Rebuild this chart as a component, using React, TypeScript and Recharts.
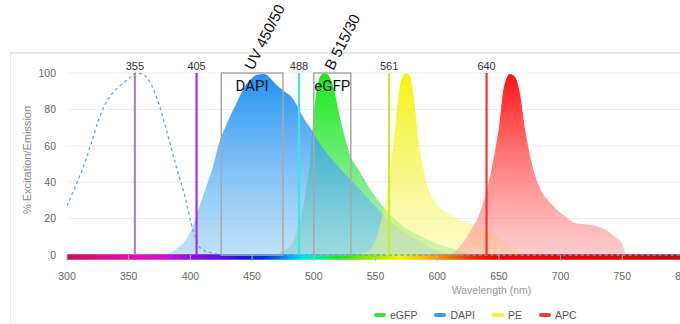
import React from 'react'
import {
  ComposedChart,
  Area,
  Line,
  XAxis,
  YAxis,
  CartesianGrid,
  ReferenceLine,
  ReferenceArea,
  Legend,
} from 'recharts'

const wavelengthTicks = [300, 350, 400, 450, 500, 550, 600, 650, 700, 750, 800]
const percentTicks = [0, 20, 40, 60, 80, 100]

// DAPI excitation, drawn dashed
const dapiExcitation = [
  { nm: 300, v: 27 }, { nm: 307, v: 38 }, { nm: 313, v: 48 }, { nm: 319, v: 60 },
  { nm: 325, v: 73 }, { nm: 331, v: 83 }, { nm: 337, v: 89 }, { nm: 343, v: 93 },
  { nm: 350, v: 97 }, { nm: 356, v: 100 }, { nm: 362, v: 99 }, { nm: 368, v: 94 },
  { nm: 374, v: 84 }, { nm: 380, v: 70 }, { nm: 388, v: 50 }, { nm: 396, v: 31 },
  { nm: 402, v: 14 }, { nm: 408, v: 4 }, { nm: 418, v: 1 }, { nm: 430, v: 0 },
  { nm: 550, v: 0 }, { nm: 700, v: 0 }, { nm: 800, v: 0 },
]

// emission spectra
const egfpEmission = [
  { nm: 465, v: 0 }, { nm: 472, v: 1 }, { nm: 478, v: 3 }, { nm: 486, v: 12 },
  { nm: 491, v: 25 }, { nm: 494, v: 37 }, { nm: 497, v: 52 }, { nm: 499, v: 70 },
  { nm: 502, v: 89 }, { nm: 505, v: 98 }, { nm: 509, v: 100 }, { nm: 514, v: 96 },
  { nm: 517, v: 89 }, { nm: 521, v: 76 }, { nm: 525, v: 65 }, { nm: 530, v: 54 },
  { nm: 537, v: 46 }, { nm: 545, v: 37 }, { nm: 551, v: 31 }, { nm: 561, v: 23 },
  { nm: 574, v: 15 }, { nm: 588, v: 10 }, { nm: 599, v: 6.5 }, { nm: 610, v: 4 },
  { nm: 620, v: 2 }, { nm: 632, v: 0 },
]

const dapiEmission = [
  { nm: 375, v: 0 }, { nm: 383, v: 1 }, { nm: 390, v: 4 }, { nm: 397, v: 9 },
  { nm: 402, v: 16 }, { nm: 407, v: 26 }, { nm: 412, v: 36 }, { nm: 418, v: 48 },
  { nm: 424, v: 63 }, { nm: 430, v: 73 }, { nm: 437, v: 83 }, { nm: 442, v: 90 },
  { nm: 448, v: 96 }, { nm: 454, v: 99 }, { nm: 460, v: 99.5 }, { nm: 465, v: 97 },
  { nm: 469, v: 94 }, { nm: 476, v: 90 }, { nm: 483, v: 86 }, { nm: 488, v: 80 },
  { nm: 492, v: 75 }, { nm: 497, v: 70 }, { nm: 507, v: 59 }, { nm: 518, v: 50 },
  { nm: 529, v: 42 }, { nm: 540, v: 34 }, { nm: 548, v: 28 }, { nm: 561, v: 19 },
  { nm: 575, v: 12 }, { nm: 588, v: 6.5 }, { nm: 595, v: 4 }, { nm: 602, v: 2 },
  { nm: 612, v: 0.5 }, { nm: 620, v: 0 },
]

const peEmission = [
  { nm: 530, v: 0 }, { nm: 540, v: 1 }, { nm: 547, v: 4 }, { nm: 551, v: 10 },
  { nm: 555, v: 20 }, { nm: 559, v: 33 }, { nm: 563, v: 52 }, { nm: 566, v: 70 },
  { nm: 569, v: 90 }, { nm: 572, v: 98 }, { nm: 575, v: 100 }, { nm: 578, v: 98 },
  { nm: 581, v: 87 }, { nm: 585, v: 62 }, { nm: 589, v: 47 }, { nm: 593, v: 36 },
  { nm: 599, v: 28.5 }, { nm: 609, v: 23 }, { nm: 625, v: 17.5 }, { nm: 639, v: 14 },
  { nm: 652, v: 8 }, { nm: 663, v: 3 }, { nm: 676, v: 0 },
]

const apcEmission = [
  { nm: 600, v: 0 }, { nm: 612, v: 1 }, { nm: 620, v: 6 }, { nm: 626, v: 12 },
  { nm: 636, v: 26 }, { nm: 644, v: 47 }, { nm: 650, v: 70 }, { nm: 654, v: 92 },
  { nm: 659, v: 99.5 }, { nm: 663, v: 98 }, { nm: 667, v: 89 }, { nm: 671, v: 70 },
  { nm: 676, v: 52 }, { nm: 683, v: 37 }, { nm: 692, v: 28.5 }, { nm: 704, v: 21 },
  { nm: 712, v: 17.5 }, { nm: 725, v: 16.5 }, { nm: 736, v: 14 }, { nm: 744, v: 10 },
  { nm: 749, v: 7 }, { nm: 752, v: 2 }, { nm: 753, v: 0 },
]

const laserLines = [355, 405, 488, 561, 640]
const laserColors = ['#ae86bf', '#a030ee', '#3fe3e3', '#c6ee2e', '#ef3535']

const filterNames = ['DAPI', 'eGFP']
const filterTitles = ['UV 450/50', 'B 515/30']
const filterLows = [425, 500]
const filterHighs = [475, 530]

const legendNames = ['eGFP', 'DAPI', 'PE', 'APC']
const legendColors = ['#3be23b', '#3a9ef0', '#f2f23a', '#f03c3c']

// colour of the wavelength strip under the plot
const spectrumStops: [number, string][] = [
  [300, '#c0125c'], [330, '#d81088'], [355, '#e010b0'], [380, '#c812d0'],
  [400, '#9010e0'], [425, '#5a10e6'], [445, '#1818e0'], [460, '#0030e0'],
  [475, '#0080f0'], [490, '#00e0f0'], [505, '#00f090'], [520, '#18e818'],
  [545, '#90e800'], [570, '#f4f000'], [590, '#f4b800'], [610, '#f07000'],
  [630, '#f02400'], [650, '#f00000'], [750, '#e60000'], [800, '#c00010'],
]

const font = "'Liberation Sans', Arial, sans-serif"

function FilterLabel({ viewBox, name, title }: any) {
  if (!viewBox) return null
  const { x, y, width } = viewBox
  const cx = x + width / 2
  return (
    <g>
      <text
        x={cx}
        y={y + 18}
        textAnchor="middle"
        fontSize={15}
        fill="#111"
        fontFamily="'Liberation Sans Narrow', Roboto, sans-serif"
      >
        {name}
      </text>
      <text
        transform={`translate(${cx + 1},${y - 2}) rotate(-63)`}
        fontSize={15}
        fill="#111"
        fontFamily={font}
      >
        {title}
      </text>
    </g>
  )
}

// y-axis title, placed from the axis box
function YTitle({ viewBox }: any) {
  if (!viewBox) return null
  const cy = viewBox.y + viewBox.height / 2 - 4
  return (
    <text
      transform={`translate(31,${cy}) rotate(-90)`}
      textAnchor="middle"
      fontSize={11}
      fill="#888"
      fontFamily={font}
    >
      % Excitation/Emission
    </text>
  )
}

function SpectraLegend() {
  return (
    <div style={{ display: 'flex', fontFamily: font, fontSize: 10.5, color: '#555' }}>
      {legendNames.map((name, i) => (
        <div key={name} style={{ display: 'flex', alignItems: 'center', marginRight: 17 }}>
          <span
            style={{
              display: 'inline-block',
              width: 12,
              height: 4,
              borderRadius: 2,
              background: legendColors[i],
              marginRight: 4,
            }}
          />
          <span>{name}</span>
        </div>
      ))}
    </div>
  )
}

export default function App() {
  return (
    <div
      style={{
        position: 'absolute',
        left: 0,
        top: 0,
        width: 680,
        height: 324,
        overflow: 'hidden',
        background: '#fff',
      }}
    >
      <div
        style={{
          position: 'absolute',
          left: 10,
          top: 52,
          right: 0,
          bottom: 0,
          borderTop: '2px solid #e6e6e6',
          borderLeft: '1px solid #ececec',
        }}
      />
      <div style={{ position: 'absolute', left: 0, top: 0 }}>
        <ComposedChart
          width={714}
          height={324}
          margin={{ top: 73, right: 30, bottom: 39, left: 0 }}
          style={{ fontFamily: font }}
        >
          <defs>
            <linearGradient id="spectrum" x1="0" y1="0" x2="1" y2="0">
              {spectrumStops.map(([nm, c]) => (
                <stop key={nm} offset={(nm - 300) / 500} stopColor={c} />
              ))}
            </linearGradient>
            <linearGradient id="gEgfp" x1="0" y1="0" x2="0" y2="1">
              <stop offset="0" stopColor="#18ea18" stopOpacity={1} />
              <stop offset="1" stopColor="#7ee69a" stopOpacity={0.6} />
            </linearGradient>
            <linearGradient id="gDapi" x1="0" y1="0" x2="0" y2="1">
              <stop offset="0" stopColor="#168cf2" stopOpacity={0.95} />
              <stop offset="1" stopColor="#8cc8f4" stopOpacity={0.55} />
            </linearGradient>
            <linearGradient id="gPe" x1="0" y1="0" x2="0" y2="1">
              <stop offset="0" stopColor="#f2f200" stopOpacity={0.95} />
              <stop offset="1" stopColor="#f6f68a" stopOpacity={0.45} />
            </linearGradient>
            <linearGradient id="gApc" x1="0" y1="0" x2="0" y2="1">
              <stop offset="0" stopColor="#ff0c0c" stopOpacity={0.98} />
              <stop offset="1" stopColor="#ff9a9a" stopOpacity={0.5} />
            </linearGradient>
          </defs>
          <CartesianGrid vertical={false} stroke="#ececec" />
          <XAxis
            dataKey="nm"
            type="number"
            domain={[300, 800]}
            ticks={wavelengthTicks}
            allowDataOverflow
            height={30}
            axisLine={false}
            tickSize={10}
            tickMargin={8}
            tickLine={{ stroke: '#b8b8b8', strokeDasharray: '0 4 6' }}
            tick={{ fill: '#666', fontSize: 10.5 }}
            label={{
              value: 'Wavelength (nm)',
              position: 'insideBottom',
              offset: -9,
              dx: 116,
              fill: '#999',
              fontSize: 10.5,
            }}
          />
          <YAxis
            type="number"
            domain={[0, 100]}
            ticks={percentTicks}
            width={67}
            axisLine={false}
            tickLine={false}
            tickMargin={5}
            tick={{ fill: '#666', fontSize: 10.5 }}
            label={<YTitle />}
          />
          <Area
            data={egfpEmission}
            dataKey="v"
            name="eGFP"
            type="monotone"
            stroke="none"
            fill="url(#gEgfp)"
            fillOpacity={1}
            isAnimationActive={false}
            activeDot={false}
          />
          <Area
            data={dapiEmission}
            dataKey="v"
            name="DAPI"
            type="monotone"
            stroke="none"
            fill="url(#gDapi)"
            fillOpacity={1}
            isAnimationActive={false}
            activeDot={false}
          />
          <Area
            data={peEmission}
            dataKey="v"
            name="PE"
            type="monotone"
            stroke="none"
            fill="url(#gPe)"
            fillOpacity={1}
            isAnimationActive={false}
            activeDot={false}
          />
          <Area
            data={apcEmission}
            dataKey="v"
            name="APC"
            type="monotone"
            stroke="none"
            fill="url(#gApc)"
            fillOpacity={1}
            isAnimationActive={false}
            activeDot={false}
          />
          <Line
            data={dapiExcitation}
            dataKey="v"
            name="DAPI ex"
            type="monotone"
            stroke="#5aa5e6"
            strokeWidth={1.3}
            strokeDasharray="3 3"
            dot={false}
            activeDot={false}
            legendType="none"
            isAnimationActive={false}
          />
          <ReferenceArea
            x1={300}
            x2={800}
            y1={-2.6}
            y2={0.4}
            ifOverflow="visible"
            fill="url(#spectrum)"
            fillOpacity={1}
            stroke="none"
          />
          {filterNames.map((name, i) => (
            <ReferenceArea
              key={name}
              x1={filterLows[i]}
              x2={filterHighs[i]}
              y1={0}
              y2={100}
              fill="none"
              stroke="#a8a8a8"
              strokeWidth={1.5}
              ifOverflow="visible"
              label={<FilterLabel name={name} title={filterTitles[i]} />}
            />
          ))}
          {laserLines.map((nm, i) => (
            <ReferenceLine
              key={nm}
              x={nm}
              stroke={laserColors[i]}
              strokeWidth={2.2}
              label={{ value: String(nm), position: 'top', offset: 3, fill: '#333', fontSize: 11 }}
            />
          ))}
          <Legend
            layout="vertical"
            align="center"
            verticalAlign="middle"
            content={<SpectraLegend />}
            wrapperStyle={{ left: 374, top: 309, width: 260, height: 16 }}
          />
        </ComposedChart>
      </div>
    </div>
  )
}
